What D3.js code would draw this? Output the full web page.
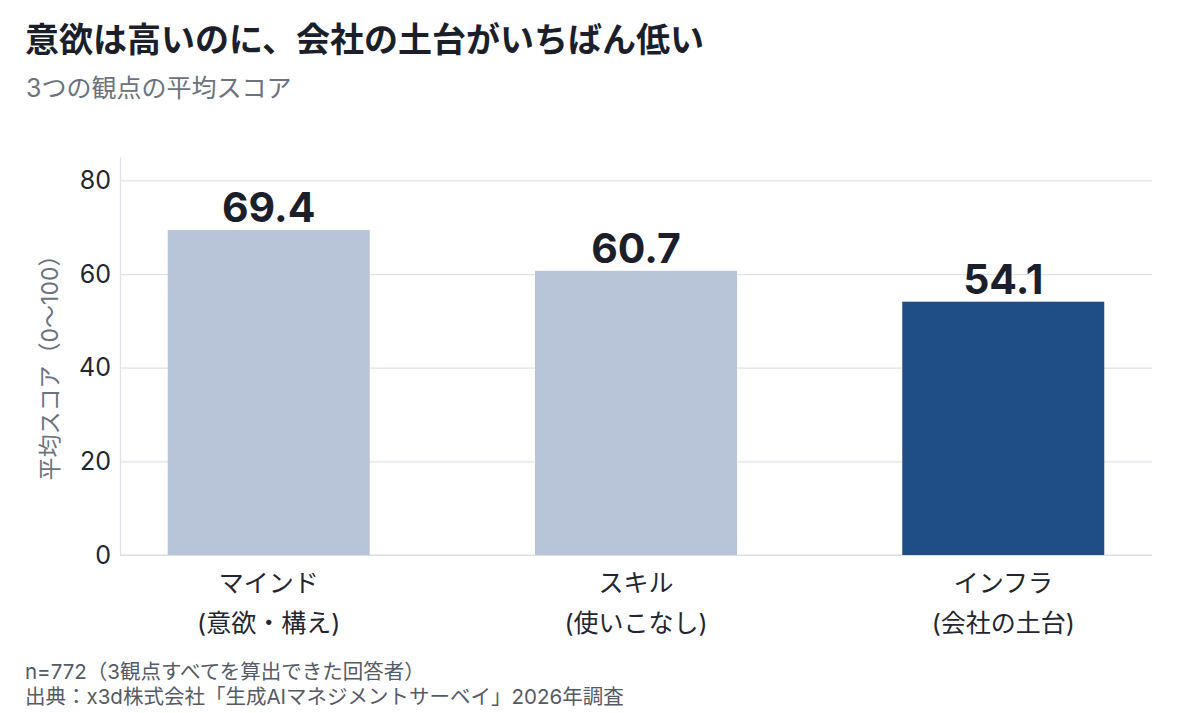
<!DOCTYPE html>
<html>
<head>
<meta charset="utf-8">
<script src="https://cdn.jsdelivr.net/npm/d3@7"></script>
<style>
  body { margin: 0; background: #fff; }
  svg { display: block; }
  text { font-family: "Inter", "Noto Sans CJK JP", sans-serif; }
</style>
</head>
<body>
<div id="chart"></div>
<script>
// data
const categories = ["マインド", "スキル", "インフラ"];
const subLabels = ["(意欲・構え)", "(使いこなし)", "(会社の土台)"];
const scores = [69.4, 60.7, 54.1];
const highlight = [false, false, true];
const yTicks = [0, 20, 40, 60, 80];

const W = 1200, H = 713;
const margin = { left: 120, right: 48, top: 157, bottom: 158 };
const width = W - margin.left - margin.right,
  height = H - margin.top - margin.bottom;

const svg = d3.select("#chart").append("svg")
  .attr("width", W)
  .attr("height", H);

// titles
svg.append("text")
  .attr("x", 25).attr("y", 52)
  .style("font-size", "34px").style("font-weight", 700)
  .attr("fill", "#1b1f2b")
  .text("意欲は高いのに、会社の土台がいちばん低い");
svg.append("text")
  .attr("x", 26).attr("y", 97)
  .style("font-size", "25px")
  .attr("fill", "#6b7280")
  .text("3つの観点の平均スコア");

const g = svg.append("g")
  .attr("transform", `translate(${margin.left},${margin.top})`);

const x = d3.scaleBand()
  .domain(categories)
  .range([0, width])
  .paddingInner(0.45)
  .paddingOuter(0.13);
const y = d3.scaleLinear().domain([0, 85]).range([height, 0]);

// grid
g.append("g")
  .call(d3.axisLeft(y).tickValues(yTicks).tickSize(-width).tickFormat(""))
  .call(a => a.select(".domain").remove())
  .call(a => a.selectAll("line").attr("stroke", "#dfe2e8").attr("stroke-width", 1.2));

// y axis
const yAxis = g.append("g")
  .call(d3.axisLeft(y).tickValues(yTicks).tickSize(0).tickPadding(9));
yAxis.select(".domain").attr("stroke", "#dfe2e8").attr("stroke-width", 1.2);
yAxis.selectAll("text")
  .style("font-size", "25px")
  .attr("fill", "#222631");

// baseline
g.append("line")
  .attr("x1", 0).attr("x2", width)
  .attr("y1", y(0)).attr("y2", y(0))
  .attr("stroke", "#d8dbe2").attr("stroke-width", 1.2);

// y title
g.append("text")
  .attr("transform", `translate(${-62},${y(42.5) + 6}) rotate(-90)`)
  .attr("text-anchor", "middle")
  .style("font-size", "23px")
  .attr("fill", "#6b7280")
  .text("平均スコア（0〜100）");

// bars
g.selectAll(".bar")
  .data(scores)
  .join("rect")
  .attr("class", "bar")
  .attr("x", (d, i) => x(categories[i]))
  .attr("width", x.bandwidth())
  .attr("y", d => y(d))
  .attr("height", d => y(0) - y(d))
  .attr("fill", (d, i) => highlight[i] ? "#1f4e87" : "#b8c4d7");

// value labels
g.selectAll(".val")
  .data(scores)
  .join("text")
  .attr("class", "val")
  .attr("x", (d, i) => x(categories[i]) + x.bandwidth() / 2)
  .attr("y", d => y(d) - 8)
  .attr("text-anchor", "middle")
  .style("font-size", "41px").style("font-weight", 700)
  .attr("fill", "#1b1f2b")
  .text(d => d.toFixed(1));

// category labels
const cat = g.selectAll(".cat")
  .data(categories)
  .join("text")
  .attr("class", "cat")
  .attr("text-anchor", "middle")
  .style("font-size", "25px")
  .attr("fill", "#222631");
cat.append("tspan")
  .attr("x", d => x(d) + x.bandwidth() / 2)
  .attr("y", height + 37)
  .text(d => d);
cat.append("tspan")
  .attr("x", d => x(d) + x.bandwidth() / 2)
  .attr("y", height + 77)
  .text((d, i) => subLabels[i]);

// footer
svg.append("text")
  .attr("x", 25).attr("y", 679)
  .style("font-size", "20.5px")
  .attr("fill", "#555b66")
  .text("n=772（3観点すべてを算出できた回答者）");
svg.append("text")
  .attr("x", 25).attr("y", 704)
  .style("font-size", "20.5px")
  .attr("fill", "#555b66")
  .text("出典：x3d株式会社「生成AIマネジメントサーベイ」2026年調査");
</script>
</body>
</html>
